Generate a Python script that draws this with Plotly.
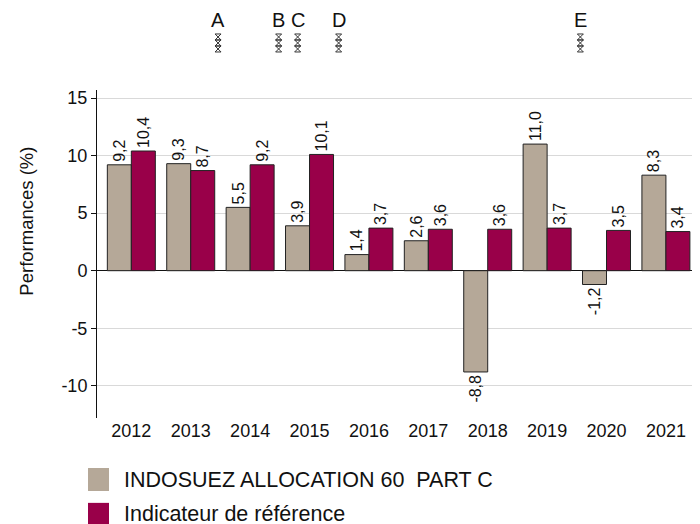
import plotly.graph_objects as go

years = [2012, 2013, 2014, 2015, 2016, 2017, 2018, 2019, 2020, 2021]
fund = [9.2, 9.3, 5.5, 3.9, 1.4, 2.6, -8.8, 11.0, -1.2, 8.3]
bench = [10.4, 8.7, 9.2, 10.1, 3.7, 3.6, 3.6, 3.7, 3.5, 3.4]
event_labels = ["A", "B", "C", "D", "E"]
event_pos = [2013.46, 2014.48, 2014.8, 2015.49, 2019.56]
y_ticks = [-10, -5, 0, 5, 10, 15]
y_ticktext = ["-10", "-5", "0", "5", "10", "15"]

series_names = ["INDOSUEZ ALLOCATION 60  PART C", "Indicateur de référence"]
series_colors = ["#B5A898", "#990049"]

FONT = "Liberation Sans, Arial, sans-serif"
fig = go.Figure()
for name, vals, col in zip(series_names, [fund, bench], series_colors):
    fig.add_trace(go.Bar(
        x=years, y=vals, name=name, showlegend=False,
        marker=dict(color=col, line=dict(color="#222222", width=1)),
        text=[f"{v:.1f}".replace(".", ",") for v in vals],
        textposition="outside", textangle=-90, constraintext="none",
        textfont=dict(size=16, color="#111111", family=FONT), cliponaxis=False,
    ))

# event markers (stacked glyphs) on overlay axis above the plot
marker_levels = [0.6375, 0.5625, 0.4875]
mx, my = [], []
for lv in marker_levels:
    mx += event_pos
    my += [lv] * len(event_pos)
fig.add_trace(go.Scatter(
    x=mx, y=my, yaxis="y2", mode="markers", showlegend=False, hoverinfo="skip",
    marker=dict(symbol="hourglass-open", size=6, color="#333333",
                line=dict(width=1, color="#333333")),
))
for lab, pos in zip(event_labels, event_pos):
    fig.add_annotation(x=pos, y=0.85, xref="x", yref="y2", text=lab, showarrow=False,
                       font=dict(size=20, color="#111111", family=FONT), yanchor="middle")

# y-axis title
fig.add_annotation(xref="paper", yref="paper", x=-0.116, y=0.479, text="Performances (%)",
                   textangle=-90, showarrow=False, xanchor="center", yanchor="middle",
                   font=dict(size=18.5, color="#111111", family=FONT))

# manual legend (large square swatches)
leg_top = [-0.122, -0.207]
leg_bot = [-0.178, -0.259]
leg_txt = [-0.151, -0.235]
for name, col, t, b, ty in zip(series_names, series_colors, leg_top, leg_bot, leg_txt):
    fig.add_shape(type="rect", xref="paper", yref="paper",
                  x0=-0.0149, x1=0.0199, y0=b, y1=t,
                  fillcolor=col, line=dict(width=0))
    fig.add_annotation(xref="paper", yref="paper", x=0.0415, y=ty,
                       text=name, showarrow=False, xanchor="left", yanchor="middle",
                       font=dict(size=21.5, color="#111111", family=FONT))

fig.update_layout(
    width=692, height=516,
    margin=dict(l=89, r=0, t=0, b=106, autoexpand=False),
    plot_bgcolor="white", paper_bgcolor="white",
    font=dict(family=FONT, size=18, color="#111111"),
    barmode="group", bargap=0.192, bargroupgap=0,
    showlegend=False,
    xaxis=dict(tickmode="array", tickvals=years, ticktext=[str(y) for y in years],
               range=[2011.422, 2021.574], showline=False, showgrid=False, ticks="",
               tickfont=dict(size=18)),
    yaxis=dict(domain=[0, 0.8], range=[-12.8, 15.7],
               tickmode="array", tickvals=y_ticks, ticktext=y_ticktext,
               showgrid=True, gridcolor="#D9D9D9", gridwidth=1,
               zeroline=True, zerolinecolor="#111111", zerolinewidth=1,
               showline=True, linecolor="#111111", linewidth=1,
               ticks="outside", ticklen=5, tickcolor="#111111",
               tickfont=dict(size=18)),
    yaxis2=dict(domain=[0.805, 1.0], range=[0, 1], visible=False, anchor="x"),
)
fig.write_html("out.html")
